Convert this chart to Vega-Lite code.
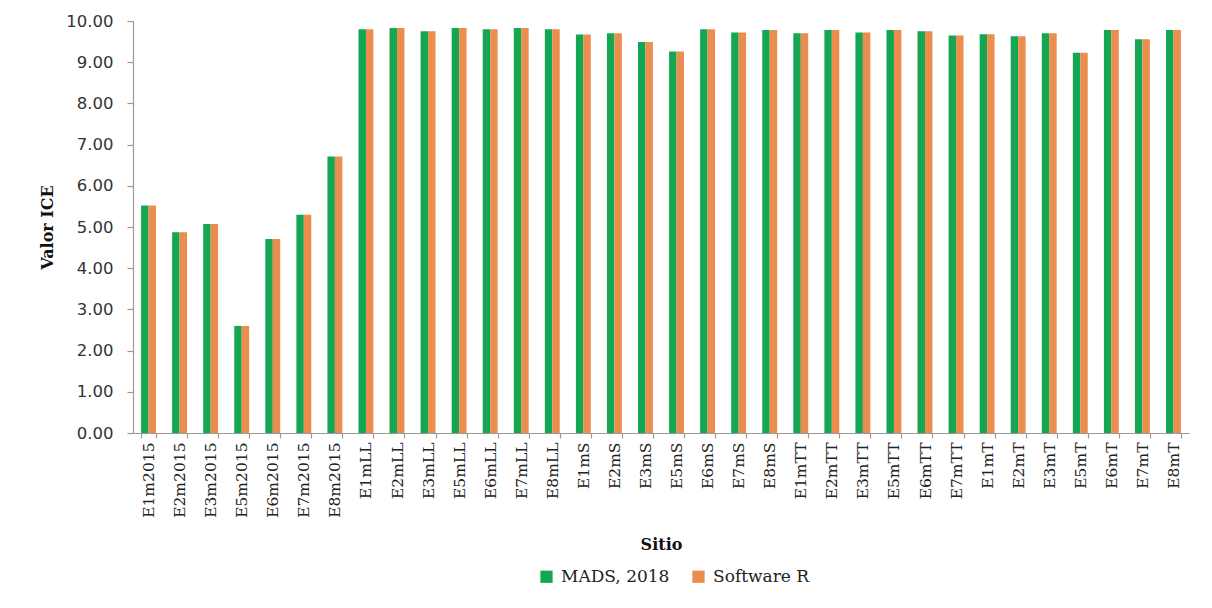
{
  "$schema": "https://vega.github.io/schema/vega-lite/v6.json",
  "width": 1056,
  "height": 412,
  "autosize": {"type": "none"},
  "padding": {"left": 133, "top": 21, "right": 23, "bottom": 175},
  "background": "white",
  "datasets": {
    "ice": [
      {"sitio": "E1m2015", "serie": "MADS, 2018", "valor": 5.52}, {"sitio": "E1m2015", "serie": "Software R", "valor": 5.52},
      {"sitio": "E2m2015", "serie": "MADS, 2018", "valor": 4.87}, {"sitio": "E2m2015", "serie": "Software R", "valor": 4.87},
      {"sitio": "E3m2015", "serie": "MADS, 2018", "valor": 5.07}, {"sitio": "E3m2015", "serie": "Software R", "valor": 5.07},
      {"sitio": "E5m2015", "serie": "MADS, 2018", "valor": 2.60}, {"sitio": "E5m2015", "serie": "Software R", "valor": 2.60},
      {"sitio": "E6m2015", "serie": "MADS, 2018", "valor": 4.71}, {"sitio": "E6m2015", "serie": "Software R", "valor": 4.71},
      {"sitio": "E7m2015", "serie": "MADS, 2018", "valor": 5.30}, {"sitio": "E7m2015", "serie": "Software R", "valor": 5.30},
      {"sitio": "E8m2015", "serie": "MADS, 2018", "valor": 6.71}, {"sitio": "E8m2015", "serie": "Software R", "valor": 6.71},
      {"sitio": "E1mLL", "serie": "MADS, 2018", "valor": 9.80}, {"sitio": "E1mLL", "serie": "Software R", "valor": 9.80},
      {"sitio": "E2mLL", "serie": "MADS, 2018", "valor": 9.83}, {"sitio": "E2mLL", "serie": "Software R", "valor": 9.83},
      {"sitio": "E3mLL", "serie": "MADS, 2018", "valor": 9.75}, {"sitio": "E3mLL", "serie": "Software R", "valor": 9.75},
      {"sitio": "E5mLL", "serie": "MADS, 2018", "valor": 9.83}, {"sitio": "E5mLL", "serie": "Software R", "valor": 9.83},
      {"sitio": "E6mLL", "serie": "MADS, 2018", "valor": 9.80}, {"sitio": "E6mLL", "serie": "Software R", "valor": 9.80},
      {"sitio": "E7mLL", "serie": "MADS, 2018", "valor": 9.83}, {"sitio": "E7mLL", "serie": "Software R", "valor": 9.83},
      {"sitio": "E8mLL", "serie": "MADS, 2018", "valor": 9.80}, {"sitio": "E8mLL", "serie": "Software R", "valor": 9.80},
      {"sitio": "E1mS", "serie": "MADS, 2018", "valor": 9.67}, {"sitio": "E1mS", "serie": "Software R", "valor": 9.67},
      {"sitio": "E2mS", "serie": "MADS, 2018", "valor": 9.70}, {"sitio": "E2mS", "serie": "Software R", "valor": 9.70},
      {"sitio": "E3mS", "serie": "MADS, 2018", "valor": 9.49}, {"sitio": "E3mS", "serie": "Software R", "valor": 9.49},
      {"sitio": "E5mS", "serie": "MADS, 2018", "valor": 9.26}, {"sitio": "E5mS", "serie": "Software R", "valor": 9.26},
      {"sitio": "E6mS", "serie": "MADS, 2018", "valor": 9.80}, {"sitio": "E6mS", "serie": "Software R", "valor": 9.80},
      {"sitio": "E7mS", "serie": "MADS, 2018", "valor": 9.72}, {"sitio": "E7mS", "serie": "Software R", "valor": 9.72},
      {"sitio": "E8mS", "serie": "MADS, 2018", "valor": 9.78}, {"sitio": "E8mS", "serie": "Software R", "valor": 9.78},
      {"sitio": "E1mTT", "serie": "MADS, 2018", "valor": 9.70}, {"sitio": "E1mTT", "serie": "Software R", "valor": 9.70},
      {"sitio": "E2mTT", "serie": "MADS, 2018", "valor": 9.78}, {"sitio": "E2mTT", "serie": "Software R", "valor": 9.78},
      {"sitio": "E3mTT", "serie": "MADS, 2018", "valor": 9.72}, {"sitio": "E3mTT", "serie": "Software R", "valor": 9.72},
      {"sitio": "E5mTT", "serie": "MADS, 2018", "valor": 9.78}, {"sitio": "E5mTT", "serie": "Software R", "valor": 9.78},
      {"sitio": "E6mTT", "serie": "MADS, 2018", "valor": 9.75}, {"sitio": "E6mTT", "serie": "Software R", "valor": 9.75},
      {"sitio": "E7mTT", "serie": "MADS, 2018", "valor": 9.65}, {"sitio": "E7mTT", "serie": "Software R", "valor": 9.65},
      {"sitio": "E1mT", "serie": "MADS, 2018", "valor": 9.68}, {"sitio": "E1mT", "serie": "Software R", "valor": 9.68},
      {"sitio": "E2mT", "serie": "MADS, 2018", "valor": 9.63}, {"sitio": "E2mT", "serie": "Software R", "valor": 9.63},
      {"sitio": "E3mT", "serie": "MADS, 2018", "valor": 9.70}, {"sitio": "E3mT", "serie": "Software R", "valor": 9.70},
      {"sitio": "E5mT", "serie": "MADS, 2018", "valor": 9.23}, {"sitio": "E5mT", "serie": "Software R", "valor": 9.23},
      {"sitio": "E6mT", "serie": "MADS, 2018", "valor": 9.78}, {"sitio": "E6mT", "serie": "Software R", "valor": 9.78},
      {"sitio": "E7mT", "serie": "MADS, 2018", "valor": 9.56}, {"sitio": "E7mT", "serie": "Software R", "valor": 9.56},
      {"sitio": "E8mT", "serie": "MADS, 2018", "valor": 9.78}, {"sitio": "E8mT", "serie": "Software R", "valor": 9.78}
    ]
  },
  "data": {"name": "ice"},
  "mark": {"type": "bar", "strokeWidth": 0},
  "encoding": {
    "x": {
      "field": "sitio",
      "type": "nominal",
      "sort": null,
      "scale": {"paddingInner": 0.52, "paddingOuter": 0.26},
      "axis": {
        "title": "Sitio",
        "labelAngle": -90,
        "labelAlign": "right",
        "labelBaseline": "middle",
        "labelFont": "DejaVu Serif",
        "labelFontSize": 15.5,
        "labelColor": "#222222",
        "labelPadding": 4,
        "tickBand": "extent",
        "tickSize": 5,
        "tickColor": "#9a9a9a",
        "domainColor": "#9a9a9a",
        "titleFont": "DejaVu Serif",
        "titleFontWeight": "bold",
        "titleFontSize": 16,
        "titleColor": "#111111",
        "titlePadding": 19
      }
    },
    "xOffset": {"field": "serie", "type": "nominal", "scale": {"paddingInner": 0, "paddingOuter": 0}},
    "y": {
      "field": "valor",
      "type": "quantitative",
      "scale": {"domain": [0, 10], "nice": false},
      "axis": {
        "title": "Valor ICE",
        "values": [0, 1, 2, 3, 4, 5, 6, 7, 8, 9, 10],
        "format": ".2f",
        "grid": false,
        "labelFont": "DejaVu Sans",
        "labelFontSize": 16.5,
        "labelColor": "#333333",
        "labelPadding": 14,
        "tickSize": 6,
        "tickColor": "#9a9a9a",
        "domainColor": "#9a9a9a",
        "titleFont": "DejaVu Serif",
        "titleFontWeight": "bold",
        "titleFontSize": 16,
        "titleColor": "#111111",
        "titlePadding": 10
      }
    },
    "color": {
      "field": "serie",
      "type": "nominal",
      "scale": {"domain": ["MADS, 2018", "Software R"], "range": ["#14A651", "#EB8D4F"]},
      "legend": {
        "title": null,
        "orient": "none",
        "direction": "horizontal",
        "legendX": 405,
        "legendY": 547,
        "symbolType": "square",
        "symbolSize": 150,
        "symbolStrokeWidth": 0,
        "symbolOpacity": 1,
        "labelFont": "DejaVu Serif",
        "labelFontSize": 17,
        "labelColor": "#222222",
        "labelOffset": 6,
        "columnPadding": 20,
        "padding": 0
      }
    }
  },
  "config": {
    "view": {"stroke": null},
    "axis": {"domainWidth": 1.2, "tickWidth": 1.2}
  }
}
